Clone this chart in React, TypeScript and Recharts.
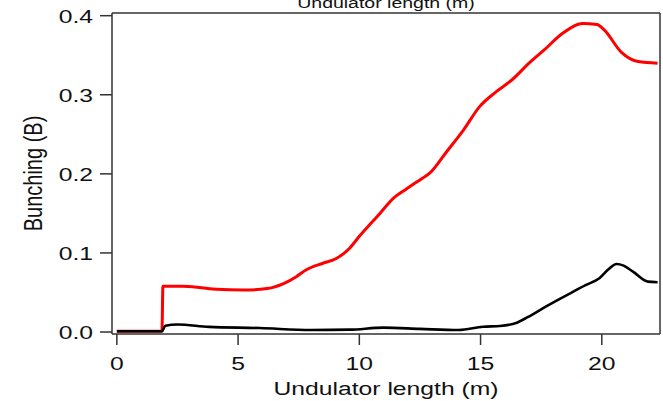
import { LineChart, Line, XAxis, YAxis, ReferenceLine } from 'recharts'

const redX = [0, 1.86, 1.9, 2.7, 3.5, 4.1, 5.2, 6.2, 6.9, 7.4, 7.8, 8.5, 9.05, 9.6, 10.0, 10.85, 11.4, 11.9, 12.6, 12.9, 13.6, 14.3, 14.96, 15.65, 16.3, 17.0, 17.6, 18.4, 19.2, 19.8, 20.1, 20.8, 21.5, 22.3]
const redY = [0.001, 0.001, 0.058, 0.058, 0.056, 0.054, 0.053, 0.055, 0.0616, 0.07, 0.0785, 0.087, 0.093, 0.106, 0.121, 0.15, 0.169, 0.18, 0.1945, 0.2008, 0.228, 0.2557, 0.285, 0.304, 0.319, 0.34, 0.356, 0.378, 0.39, 0.389, 0.382, 0.354, 0.342, 0.34]

const blackX = [0, 1.86, 2.0, 2.5, 3.8, 5.9, 8.0, 9.6, 11.0, 12.5, 14.1, 15.1, 15.8, 16.5, 17.1, 17.8, 18.7, 19.35, 19.9, 20.3, 20.6, 20.9, 21.3, 21.9, 22.3]
const blackY = [0.001, 0.001, 0.008, 0.0095, 0.0065, 0.005, 0.0025, 0.003, 0.0055, 0.004, 0.0025, 0.0067, 0.0076, 0.0118, 0.0215, 0.034, 0.049, 0.0595, 0.068, 0.08, 0.086, 0.084, 0.076, 0.0637, 0.063]

const xTicks = [0, 5, 10, 15, 20]
const yTicks = [0, 0.1, 0.2, 0.3, 0.4]
const xDomain = [-0.2, 22.4]
const yDomain = [-0.0025, 0.4034]

const redData = redX.map((x, i) => ({ x, b: redY[i] }))
const blackData = blackX.map((x, i) => ({ x, b: blackY[i] }))

const FONT = '"Liberation Sans", Arial, sans-serif'
const STRETCH = 1.3
const AXIS = '#333'

function YTick({ x, y, payload }: any) {
  return (
    <text transform={`translate(${x},${y}) scale(${STRETCH},1)`} textAnchor="end" dy="0.36em"
      fontSize={19} fontFamily={FONT} fill="#111">
      {Number(payload.value).toFixed(1)}
    </text>
  )
}

function XTick({ x, y, payload }: any) {
  return (
    <text transform={`translate(${x},${y}) scale(${STRETCH},1)`} textAnchor="middle" dy="0.71em"
      fontSize={19} fontFamily={FONT} fill="#111">
      {payload.value}
    </text>
  )
}

function XLabel({ viewBox }: any) {
  const cx = viewBox ? viewBox.x + viewBox.width / 2 : 386
  return (
    <text transform={`translate(${cx},395) scale(${STRETCH},1)`} textAnchor="middle"
      fontSize={19} fontFamily={FONT} fill="#111">
      Undulator length (m)
    </text>
  )
}

// top axis title, mostly cut off by the top of the picture
function TopLabel() {
  return (
    <text transform={`translate(386,8) scale(${STRETCH},1)`} textAnchor="middle"
      fontSize={15} fontFamily={FONT} fill="#111">
      Undulator length (m)
    </text>
  )
}

function YLabel({ viewBox }: any) {
  const cy = viewBox ? viewBox.y + viewBox.height / 2 : 173
  return (
    <text transform={`translate(42,${cy}) scale(${STRETCH},1) rotate(-90)`} textAnchor="middle"
      fontSize={20} fontFamily={FONT} fill="#111">
      Bunching (B)
    </text>
  )
}

export default function App() {
  return (
    <div style={{ position: 'absolute', left: 0, top: 0, background: '#fff' }}>
      <LineChart width={663} height={401} margin={{ top: 13, right: 3, bottom: 0, left: 0 }}>
        <XAxis
          dataKey="x"
          type="number"
          domain={xDomain}
          ticks={xTicks}
          allowDataOverflow
          height={67}
          tick={<XTick />}
          tickSize={11}
          tickMargin={12}
          axisLine={{ stroke: AXIS, strokeWidth: 1.5 }}
          tickLine={{ stroke: AXIS, strokeWidth: 1.5 }}
          label={<XLabel />}
        />
        <YAxis
          type="number"
          domain={yDomain}
          ticks={yTicks}
          allowDataOverflow
          width={112}
          tick={<YTick />}
          tickSize={12}
          tickMargin={7}
          axisLine={{ stroke: AXIS, strokeWidth: 1.5 }}
          tickLine={{ stroke: AXIS, strokeWidth: 1.5 }}
          label={<YLabel />}
        />
        <ReferenceLine y={yDomain[1]} stroke={AXIS} strokeWidth={1.5} label={<TopLabel />} />
        <ReferenceLine x={xDomain[1]} stroke={AXIS} strokeWidth={1.5} />
        <Line data={redData} dataKey="b" type="monotone" stroke="#ff0000" strokeWidth={3}
          dot={false} isAnimationActive={false} />
        <Line data={blackData} dataKey="b" type="monotone" stroke="#000" strokeWidth={2.6}
          dot={false} isAnimationActive={false} />
      </LineChart>
    </div>
  )
}
